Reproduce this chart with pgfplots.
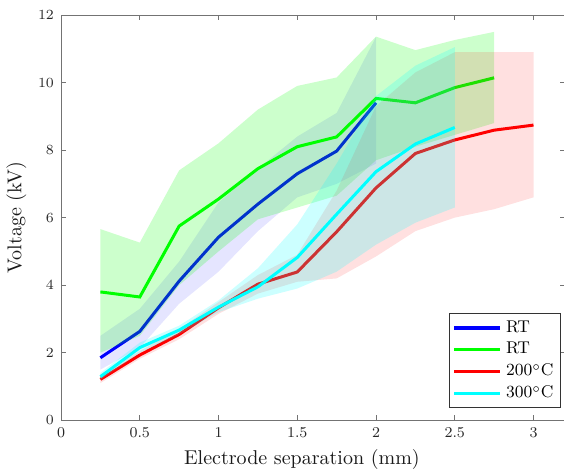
\documentclass[border=0pt]{standalone}
\usepackage{pgfplots}
\pgfplotsset{compat=1.18}
\definecolor{cB}{rgb}{0,0,1}
\definecolor{cG}{rgb}{0,1,0}
\definecolor{cR}{rgb}{1,0,0}
\definecolor{cC}{rgb}{0,1,1}
\begin{document}
\begin{tikzpicture}
\begin{axis}[
  scale only axis,
  width=251.85pt, height=202.5pt,
  xmin=0, xmax=3.2, ymin=0, ymax=12,
  xtick={0,0.5,1,1.5,2,2.5,3},
  ytick={0,2,4,6,8,10,12},
  xticklabels={0,0.5,1,1.5,2,2.5,3},
  tick align=inside,
  major tick length=2.5pt,
  axis line style={black!55, line width=0.4pt},
  every tick/.style={black!55, line width=0.4pt},
  tick label style={font=\fontsize{7.5}{9}\selectfont, text=black!85},
  xlabel={Electrode separation (mm)},
  ylabel={Voltage (kV)},
  label style={font=\fontsize{10}{12}\selectfont, text=black!90},
  x label style={at={(ticklabel cs:0.478)}, yshift=1pt},
  y label style={yshift=-1pt},
  legend style={at={(axis description cs:1,0)}, anchor=south east, xshift=-2pt, yshift=6pt,
    draw=black!80, line width=0.4pt, fill=white, font=\fontsize{8.5}{10}\selectfont,
    inner sep=1.5pt, row sep=-0.5pt},
  legend cell align=left,
  legend image code/.code={\draw[#1, line width=1.6pt] (0pt,0pt) -- (23pt,0pt);},
]
% blue band
\addplot[draw=none, fill=cB, fill opacity=0.1, forget plot] coordinates {
(0.25,2.5) (0.5,3.3) (0.75,4.7) (1.0,6.45) (1.25,7.45) (1.5,8.4) (1.75,9.1) (2.0,11.35)
(2.0,7.6) (1.75,7.0) (1.5,6.6) (1.25,5.6) (1.0,4.4) (0.75,3.45) (0.5,2.15) (0.25,1.5)} -- cycle;
\addplot[line width=1.5pt, color=cB] coordinates {
(0.25,1.85) (0.5,2.63) (0.75,4.12) (1.0,5.42) (1.25,6.4) (1.5,7.3) (1.75,7.97) (2.0,9.4)};
\addlegendentry{RT}
% green band
\addplot[draw=none, fill=cG, fill opacity=0.2, forget plot] coordinates {
(0.25,5.66) (0.5,5.26) (0.75,7.4) (1.0,8.2) (1.25,9.2) (1.5,9.9) (1.75,10.15) (2.0,11.36) (2.25,10.96) (2.5,11.26) (2.75,11.5)
(2.75,8.8) (2.5,8.45) (2.25,8.1) (2.0,7.7) (1.75,6.65) (1.5,6.3) (1.25,5.95) (1.0,5.0) (0.75,4.0) (0.5,2.5) (0.25,2.0)} -- cycle;
\addplot[line width=1.5pt, color=cG] coordinates {
(0.25,3.8) (0.5,3.65) (0.75,5.75) (1.0,6.55) (1.25,7.45) (1.5,8.1) (1.75,8.39) (2.0,9.53) (2.25,9.4) (2.5,9.85) (2.75,10.14)};
\addlegendentry{RT}
% red band
\addplot[draw=none, fill=cR, fill opacity=0.12, forget plot] coordinates {
(0.25,1.35) (0.5,2.05) (0.75,2.7) (1.0,3.5) (1.25,4.3) (1.5,4.9) (1.75,6.8) (2.0,9.3) (2.25,10.3) (2.5,10.9) (2.75,10.9) (3.0,10.9)
(3.0,6.6) (2.75,6.25) (2.5,6.0) (2.25,5.6) (2.0,4.85) (1.75,4.2) (1.5,4.1) (1.25,3.75) (1.0,3.15) (0.75,2.4) (0.5,1.82) (0.25,1.1)} -- cycle;
\addplot[line width=1.5pt, color=cR] coordinates {
(0.25,1.21) (0.5,1.93) (0.75,2.54) (1.0,3.33) (1.25,4.03) (1.5,4.39) (1.75,5.58) (2.0,6.88) (2.25,7.9) (2.5,8.3) (2.75,8.59) (3.0,8.74)};
\addlegendentry{200$^\circ$C}
% cyan band
\addplot[draw=none, fill=cC, fill opacity=0.2, forget plot] coordinates {
(0.25,1.4) (0.5,2.3) (0.75,2.8) (1.0,3.55) (1.25,4.5) (1.5,5.8) (1.75,7.6) (2.0,9.6) (2.25,10.5) (2.5,11.05)
(2.5,6.3) (2.25,5.85) (2.0,5.2) (1.75,4.4) (1.5,3.9) (1.25,3.6) (1.0,3.2) (0.75,2.55) (0.5,2.0) (0.25,1.2)} -- cycle;
\addplot[line width=1.5pt, color=cC] coordinates {
(0.25,1.29) (0.5,2.15) (0.75,2.67) (1.0,3.35) (1.25,3.95) (1.5,4.82) (1.75,6.1) (2.0,7.36) (2.25,8.18) (2.5,8.67)};
\addlegendentry{300$^\circ$C}
\end{axis}
\pgfresetboundingbox
\useasboundingbox ([shift={(-30.5pt,-26.5pt)}]current axis.south west) rectangle ([shift={(-0.5pt,7.5pt)}]current axis.north east);
\end{tikzpicture}
\end{document}
